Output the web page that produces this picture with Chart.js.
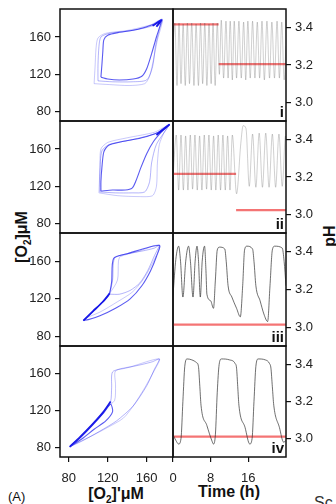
<!DOCTYPE html>
<html>
<head>
<meta charset="utf-8">
<script src="https://cdn.jsdelivr.net/npm/chart.js@4.4.1/dist/chart.umd.min.js"></script>
<style>
  body { margin: 0; width: 336px; height: 504px; overflow: hidden; background: #fff; position: relative;
         font-family: Arial, "Liberation Sans", Helvetica, sans-serif; }
  canvas { position: absolute; }
  .lbl { position: absolute; white-space: nowrap; color: #111; }
  .ttl { font-weight: bold; font-size: 16px; transform: translate(-50%, -50%); }
  .rot { transform: translate(-50%, -50%) rotate(-90deg); }
  .rn { font-weight: bold; font-size: 15px; line-height: 15px; text-align: right; }
  sub { font-size: 10px; line-height: 0; }
</style>
</head>
<body>
<div class="lbl ttl rot" style="left:22px;top:237px">[O<sub>2</sub>]μM</div>
<div class="lbl ttl rot" style="left:330px;top:236px">pH</div>
<div class="lbl ttl" style="left:116px;top:494px">[O<sub>2</sub>]'μM</div>
<div class="lbl ttl" style="left:229px;top:492px">Time (h)</div>
<div class="lbl" style="left:8px;top:489px;font-size:13px">(A)</div>
<div class="lbl" style="left:314px;top:494px;font-size:16px;color:#333">Sc</div>
<script>
/* ---------- axes ---------- */
const o2Ticks = [80, 120, 160];
const timeTicks = [0, 8, 16];
const phTicks = [3.0, 3.2, 3.4];
const panelNames = ['i', 'ii', 'iii', 'iv'];

/* ---------- phase loops: [ [O2]' , [O2] ] ---------- */
const cycleI_outer = [[106,110],[122,109],[142,108],[158,110],[163,118],[167,136],[171,157],[176,179],[164,173],[140,167],[118,164],[110,159],[108,148],[107,128],[106,110]];
const cycleI_mid = [[110,113],[125,112],[145,112],[160,114],[166,128],[169,150],[173,168],[176,179],[166,172],[145,167],[122,164],[113,160],[111,150],[110,130],[110,113]];
const cycleI_main = [[113,117],[120,115],[132,114],[146,115],[155,118],[160,126],[165,142],[170,160],[175,178],[168,174],[150,168],[132,165],[120,162],[116,157],[115,145],[114,130],[113,117]];
const cycleI_dense = [[166,172],[175,178],[170,171]];

const cycleII_outer = [[111,113],[130,110],[152,109],[166,110],[170,120],[171,145],[173,165],[178,178],[183,186],[168,178],[140,172],[120,167],[113,160],[112,140],[111,113]];
const cycleII_mid = [[112,114],[128,113],[145,113],[158,114],[163,125],[165,145],[170,165],[183,186],[170,177],[145,170],[122,165],[114,158],[112,135],[112,114]];
const cycleII_main = [[113,115],[125,116],[138,116],[145,118],[149,126],[154,140],[160,155],[167,168],[175,178],[183,186],[172,178],[155,172],[135,168],[121,164],[116,157],[114,140],[113,125],[113,115]];
const cycleII_dense = [[170,175],[183,186],[176,180]];

const cycleIII_outer = [[98,100],[110,112],[122,126],[130,140],[131,160],[133,165],[150,170],[173,177],[166,158],[156,140],[145,127],[130,117],[112,106],[98,100]];
const cycleIII_mid = [[122,125],[125,140],[127,163],[140,168],[156,171],[168,174],[173,177],[168,166],[161,150],[153,137],[143,129],[132,125],[122,125]];
const cycleIII_main = [[95,97],[104,106],[113,115],[121,124],[124,138],[126,163],[140,168],[173,177],[170,165],[164,150],[155,134],[143,120],[128,110],[112,102],[100,98],[95,97]];
const cycleIII_dense = [[95,97],[105,107],[115,117],[122,126]];

const cycleIV_outer = [[82,82],[93,93],[106,107],[118,123],[127,131],[128,148],[128,163],[145,168],[173,176],[167,162],[157,143],[146,125],[136,112],[120,102],[102,92],[82,82]];
const cycleIV_mid = [[81,81],[90,90],[100,101],[110,112],[118,122],[123,130],[124,145],[125,162],[138,166],[155,170],[166,173],[173,176],[168,165],[160,147],[146,125],[129,109],[112,98],[95,88],[81,81]];
const cycleIV_main = [[81,81],[92,91],[104,104],[116,118],[123,127],[125,119],[118,109],[106,100],[94,90],[81,81]];
const cycleIV_dense = [[81,81],[92,92],[104,105],[115,118],[123,130]];

/* ---------- pH traces: [ time h , pH ] ---------- */
const phI = [[0,3.30],[0.4,3.425],[0.85,3.09],[1.28,3.425],[1.7,3.10],[2.15,3.42],[2.6,3.09],[3.05,3.425],[3.5,3.10],[3.98,3.425],[4.45,3.09],[4.9,3.42],[5.4,3.09],[5.85,3.425],[6.3,3.10],[6.75,3.425],[7.2,3.09],[7.65,3.42],[8.1,3.10],[8.5,3.425],[8.95,3.09],[9.4,3.425],[9.85,3.15],[10.25,3.44],[10.75,3.13],[11.25,3.435],[11.7,3.13],[12.15,3.435],[12.6,3.12],[13.0,3.435],[13.5,3.13],[14.0,3.435],[14.5,3.13],[15.0,3.43],[15.45,3.12],[15.9,3.435],[16.4,3.13],[16.9,3.435],[17.4,3.13],[17.9,3.43],[18.4,3.13],[18.9,3.435],[19.4,3.12],[19.95,3.435],[20.5,3.13],[21.0,3.43],[21.55,3.13],[22.1,3.435],[22.6,3.13],[23.1,3.43],[23.6,3.12],[24,3.30]];
const phII = [[0,3.20],[0.7,3.425],[1.2,3.13],[1.7,3.425],[2.2,3.13],[2.68,3.42],[3.17,3.13],[3.67,3.425],[4.16,3.135],[4.66,3.425],[5.15,3.13],[5.65,3.42],[6.14,3.13],[6.64,3.425],[7.13,3.135],[7.63,3.425],[8.12,3.13],[8.62,3.42],[9.1,3.13],[9.6,3.425],[10.1,3.13],[10.6,3.425],[11.1,3.13],[11.6,3.42],[12.1,3.13],[12.6,3.425],[13.5,3.11],[14.4,3.38],[14.9,3.475],[15.5,3.46],[16.2,3.15],[16.9,3.43],[17.6,3.145],[18.3,3.435],[19.0,3.145],[19.7,3.435],[20.4,3.145],[21.1,3.43],[21.8,3.145],[22.5,3.43],[23.2,3.15],[23.9,3.42],[24,3.40]];
const phIII = [[0,3.17],[0.6,3.36],[1.2,3.43],[1.6,3.35],[2.1,3.16],[2.7,3.35],[3.3,3.43],[3.7,3.35],[4.25,3.16],[4.7,3.35],[5.1,3.43],[5.4,3.36],[5.8,3.16],[6.2,3.35],[6.7,3.43],[7.0,3.30],[7.2,3.175],[8.0,3.14],[8.6,3.10],[9.0,3.25],[9.4,3.41],[9.9,3.425],[11.0,3.415],[11.3,3.35],[11.7,3.22],[12.5,3.16],[13.5,3.10],[14.3,3.055],[14.8,3.22],[15.2,3.41],[15.7,3.43],[16.9,3.415],[17.2,3.35],[17.6,3.22],[18.5,3.14],[19.3,3.07],[20.1,3.03],[20.6,3.22],[21.1,3.41],[21.6,3.43],[23.2,3.42],[23.6,3.35],[24,3.22]];
const phIV = [[0,3.02],[0.6,2.99],[1.2,2.97],[1.7,3.00],[2.1,3.20],[2.5,3.39],[3.0,3.43],[4.0,3.425],[5.0,3.41],[5.4,3.39],[5.7,3.28],[5.95,3.18],[7.2,3.07],[8.3,2.985],[8.6,2.97],[9.0,3.02],[9.4,3.25],[9.8,3.40],[10.3,3.43],[12.0,3.425],[13.2,3.405],[13.5,3.38],[13.75,3.28],[14.0,3.18],[15.3,3.06],[16.3,2.97],[16.8,3.00],[17.2,3.20],[17.6,3.39],[18.1,3.43],[19.6,3.425],[20.5,3.405],[20.8,3.38],[21.1,3.28],[21.4,3.18],[22.6,3.06],[23.5,2.98],[24,2.99]];

/* ---------- pH set points: [ from h , to h , pH ] ---------- */
const setI = [[0, 9.7, 3.418], [9.7, 24, 3.205]];
const setII = [[0, 13.4, 3.217], [13.4, 24, 3.023]];
const setIII = [[0, 24, 3.014]];
const setIV = [[0, 24, 3.010]];

const cycles = [
  [cycleI_outer, cycleI_mid, cycleI_main, cycleI_dense],
  [cycleII_outer, cycleII_mid, cycleII_main, cycleII_dense],
  [cycleIII_outer, cycleIII_mid, cycleIII_main, cycleIII_dense],
  [cycleIV_outer, cycleIV_mid, cycleIV_main, cycleIV_dense]
];
const traces = [phI, phII, phIII, phIV];
const setPoints = [setI, setII, setIII, setIV];

/* ---------- layout ---------- */
const FONT = 'Arial, "Liberation Sans", Helvetica, sans-serif';
const rowTop = [9, 121, 233, 346];
const rowBottom = [121, 233, 346, 457];
const PAD = 3;
const loopStyles = [
  { color: 'rgba(40,40,240,0.25)', width: 1 },
  { color: 'rgba(40,40,240,0.35)', width: 1 },
  { color: 'rgba(20,20,235,0.70)', width: 1.1 },
  { color: 'rgba(10,10,225,0.95)', width: 1.8 }
];
const traceStyles = [
  { color: 'rgba(60,60,60,0.35)', width: 0.7 },
  { color: 'rgba(60,60,60,0.35)', width: 0.7 },
  { color: 'rgba(40,40,40,0.75)', width: 0.9 },
  { color: 'rgba(40,40,40,0.75)', width: 0.9 }
];

const frame = {
  id: 'frame',
  afterDatasetsDraw(chart) {
    const { ctx, chartArea: a } = chart;
    ctx.save();
    ctx.strokeStyle = '#111';
    ctx.lineWidth = 1.5;
    ctx.strokeRect(a.left, a.top, a.right - a.left, a.bottom - a.top);
    ctx.restore();
  }
};

function makeCanvas(left, top, w, h) {
  const c = document.createElement('canvas');
  c.width = w; c.height = h;
  c.style.left = left + 'px'; c.style.top = top + 'px';
  c.style.width = w + 'px'; c.style.height = h + 'px';
  document.body.appendChild(c);
  return c;
}

function noPad(s) {
  s.paddingTop = 0; s.paddingBottom = 0; s.paddingLeft = 0; s.paddingRight = 0;
}

function tickGrid() {
  return { drawOnChartArea: false, drawTicks: true, tickLength: 5, color: '#111', lineWidth: 1.2 };
}

function axisX(min, max, ticks, show) {
  return {
    type: 'linear', position: 'bottom', min, max, display: show,
    afterBuildTicks: s => { s.ticks = ticks.map(v => ({ value: v })); },
    afterFit: s => { s.height = show ? 47 : 0; noPad(s); },
    grid: tickGrid(),
    border: { display: false },
    ticks: { color: '#222', font: { size: 13, family: FONT }, padding: 9, maxRotation: 0, autoSkip: false }
  };
}

function axisY(min, max, ticks, side, fmt) {
  return {
    type: 'linear', position: side, min, max,
    afterBuildTicks: s => { s.ticks = ticks.map(v => ({ value: v })); },
    afterFit: s => { s.width = side === 'left' ? 60 : 50; noPad(s); },
    grid: tickGrid(),
    border: { display: false },
    ticks: { color: '#222', font: { size: 13, family: FONT }, padding: 4, autoSkip: false, callback: fmt }
  };
}

function baseOptions(last, padLeft, padRight) {
  return {
    responsive: false, animation: false, events: [],
    layout: { padding: { top: PAD, left: padLeft, right: padRight, bottom: last ? 0 : PAD } },
    plugins: { legend: { display: false }, tooltip: { enabled: false } }
  };
}

function leftChart(r) {
  const last = r === 3;
  const h = rowBottom[r] - rowTop[r] + PAD + (last ? 47 : PAD);
  const cv = makeCanvas(0, rowTop[r] - PAD, 173 + PAD, h);
  const datasets = cycles[r].map((pts, k) => ({
    data: pts.map(p => ({ x: p[0], y: p[1] })),
    borderColor: loopStyles[k].color,
    borderWidth: loopStyles[k].width,
    pointRadius: 0, tension: 0.25, fill: false
  }));
  const options = baseOptions(last, 0, PAD);
  options.scales = {
    x: axisX(71, 187, o2Ticks, last),
    y: axisY(70, 190, o2Ticks, 'left', v => String(v))
  };
  new Chart(cv, { type: 'line', data: { datasets }, options, plugins: [frame] });
}

function rightChart(r) {
  const last = r === 3;
  const h = rowBottom[r] - rowTop[r] + PAD + (last ? 47 : PAD);
  const cv = makeCanvas(173 - PAD, rowTop[r] - PAD, PAD + 113 + 50, h);
  const datasets = [{
    data: traces[r].map(p => ({ x: p[0], y: p[1] })),
    borderColor: traceStyles[r].color,
    borderWidth: traceStyles[r].width,
    pointRadius: 0, cubicInterpolationMode: 'monotone', fill: false
  }];
  setPoints[r].forEach(s => {
    datasets.push({
      data: [{ x: s[0], y: s[2] }, { x: s[1], y: s[2] }],
      borderColor: 'rgba(240,70,70,0.75)', borderWidth: 2.2,
      pointRadius: 0, fill: false
    });
  });
  const options = baseOptions(last, PAD, 0);
  options.scales = {
    x: axisX(0, 24, timeTicks, last),
    y: axisY(2.9, 3.5, phTicks, 'right', v => v.toFixed(1))
  };
  new Chart(cv, { type: 'line', data: { datasets }, options, plugins: [frame] });

  const tag = document.createElement('div');
  tag.className = 'lbl rn';
  tag.style.right = (336 - 284) + 'px';
  tag.style.top = (rowBottom[r] - 17) + 'px';
  tag.textContent = panelNames[r];
  document.body.appendChild(tag);
}

for (let r = 0; r < 4; r++) {
  leftChart(r);
  rightChart(r);
}
</script>
</body>
</html>
